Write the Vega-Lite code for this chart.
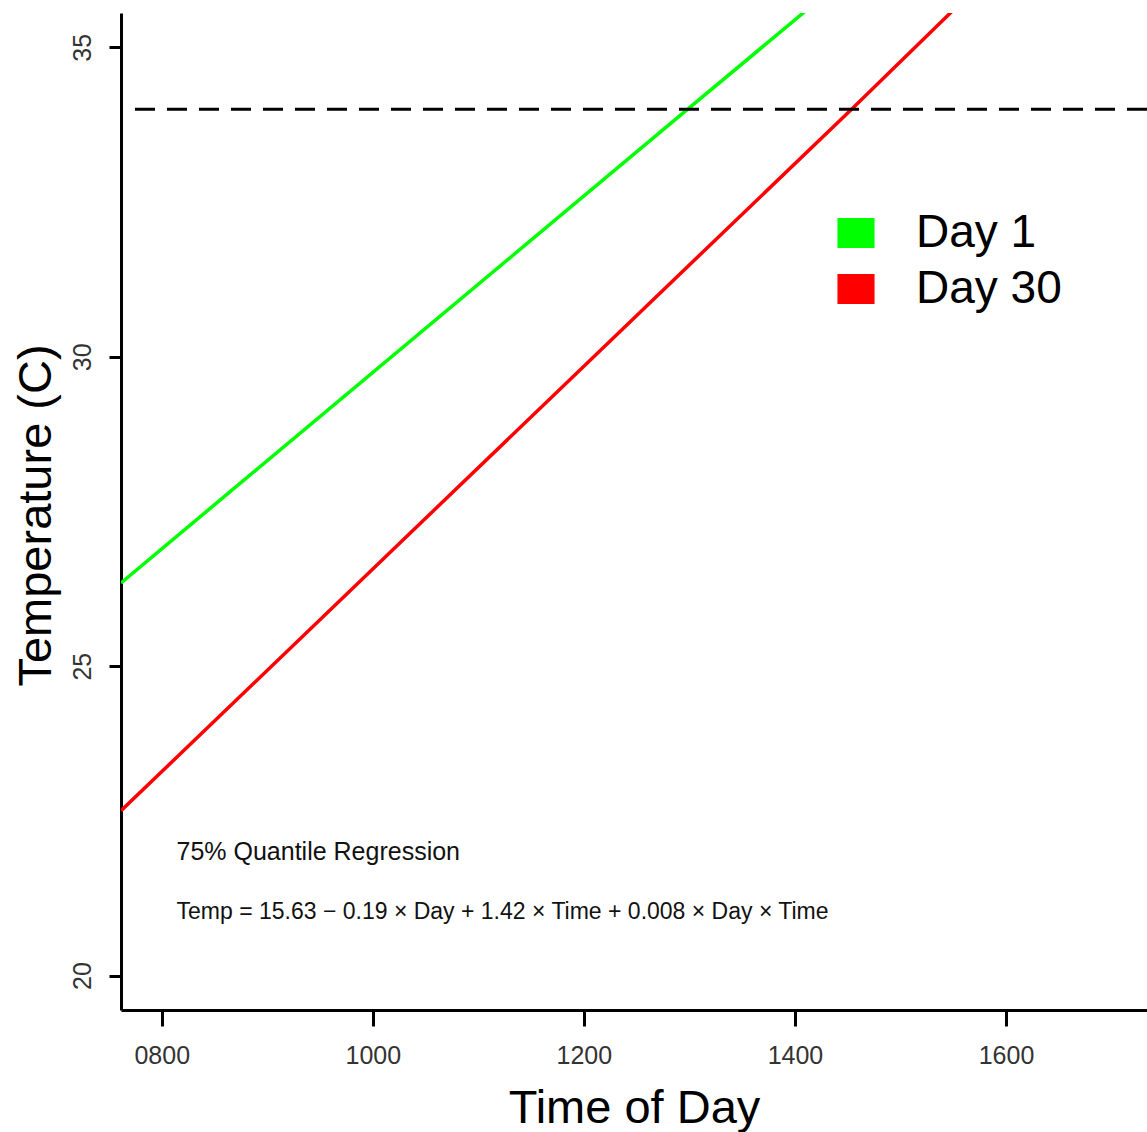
{
  "$schema": "https://vega.github.io/schema/vega-lite/v6.json",
  "autosize": {"type": "none"},
  "padding": {"left": 121, "top": 13, "right": 0, "bottom": 122},
  "width": 1026,
  "height": 997,
  "background": "white",
  "config": {
    "view": {"stroke": null},
    "font": "Liberation Sans",
    "axis": {"grid": false, "domainColor": "black", "domainWidth": 3, "tickColor": "black", "tickWidth": 3, "labelFont": "Liberation Sans", "labelFontSize": 25, "labelColor": "#333333", "titleFont": "Liberation Sans", "titleFontSize": 47, "titleFontWeight": "normal", "titleColor": "black"}
  },
  "layer": [
    {
      "data": {"values": [
        {"time": 761.4, "temp": 26.345, "group": "Day 1"},
        {"time": 1298.4, "temp": 34.0, "group": "Day 1"},
        {"time": 1411.0, "temp": 35.6, "group": "Day 1"},
        {"time": 761.4, "temp": 22.663, "group": "Day 30"},
        {"time": 1453.7, "temp": 34.0, "group": "Day 30"},
        {"time": 1550.0, "temp": 35.6, "group": "Day 30"}
      ]},
      "mark": {"type": "line", "strokeWidth": 3.5, "clip": true},
      "encoding": {
        "x": {"field": "time", "type": "quantitative", "scale": {"domain": [761.4, 1733.6], "nice": false, "zero": false},
          "axis": {"values": [800, 1000, 1200, 1400, 1600], "format": "04d", "tickSize": 16, "labelPadding": 17, "title": "Time of Day", "titleY": 112, "titleBaseline": "alphabetic", "labelFlush": false}},
        "y": {"field": "temp", "type": "quantitative", "scale": {"domain": [19.444, 35.554], "nice": false, "zero": false},
          "axis": {"values": [20, 25, 30, 35], "format": "d", "tickSize": 12, "labelPadding": 19, "labelAngle": -90, "labelAlign": "center", "labelBaseline": "alphabetic", "title": "Temperature (C)", "titleAngle": 270, "titleX": -71, "titleY": 502, "titleAlign": "center", "titleBaseline": "alphabetic", "labelFlush": false}},
        "color": {"field": "group", "type": "nominal", "scale": {"domain": ["Day 1", "Day 30"], "range": ["#00ff00", "#ff0000"]},
          "legend": {"title": null, "orient": "none", "legendX": 712, "legendY": 197, "labelFont": "Liberation Sans", "labelFontSize": 46, "labelColor": "black", "labelOffset": 37, "rowPadding": 10, "symbolSize": 1267, "symbolType": "M-1,-0.8H1V0.8H-1Z", "symbolStrokeColor": "#222222", "symbolStrokeWidth": 1.5,
            "encode": {"symbols": {"update": {"fill": {"scale": "color", "field": "value"}, "stroke": {"value": "#222222"}, "strokeWidth": {"value": 1.5}, "fillOpacity": {"value": 1}, "strokeOpacity": {"value": 1}}}}}}
      }
    },
    {
      "data": {"values": [{"y": 34}]},
      "mark": {"type": "rule", "strokeWidth": 3, "strokeDash": [20, 12], "color": "black"},
      "encoding": {"y": {"field": "y", "type": "quantitative"}}
    },
    {
      "data": {"values": [
        {"x": 814, "y": 22.0, "label": "75% Quantile Regression", "size": 25},
        {"x": 814, "y": 21.03, "label": "Temp = 15.63 − 0.19 × Day + 1.42 × Time + 0.008 × Day × Time", "size": 23}
      ]},
      "mark": {"type": "text", "align": "left", "baseline": "middle", "font": "Liberation Sans", "color": "#111111"},
      "encoding": {
        "x": {"field": "x", "type": "quantitative"},
        "y": {"field": "y", "type": "quantitative"},
        "text": {"field": "label"},
        "size": {"field": "size", "type": "quantitative", "scale": null}
      }
    }
  ]
}
